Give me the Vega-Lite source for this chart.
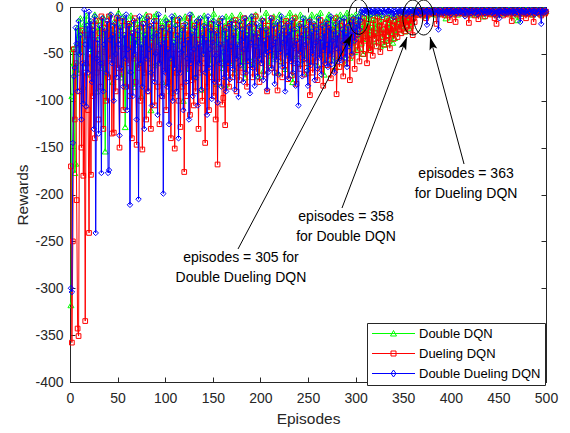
{
"$schema":"https://vega.github.io/schema/vega-lite/v6.json",
"width":476,"height":375,"autosize":"none",
"padding":{"left":70,"top":7,"right":24,"bottom":51},
"background":"white",
"config":{
"view":{"stroke":"#262626","strokeWidth":1},
"font":"Liberation Sans",
"axis":{"grid":false,"domainColor":"#262626","tickColor":"#262626","labelColor":"#262626","titleColor":"#262626","labelFont":"Liberation Sans","titleFont":"Liberation Sans","labelFontSize":14,"titleFontSize":15.5,"titleFontWeight":"normal","tickSize":-5,"domainWidth":1,"tickWidth":1,"labelFlush":false,"labelOverlap":false}
},
"datasets":{
"runs":[
{"e":1,"g":-318,"r":-170,"b":-300},{"e":2,"g":-95,"r":-358,"b":-304},{"e":3,"g":-45,"r":-250,"b":-145},{"e":4,"g":-60,"r":-45,"b":-74},{"e":5,"g":-177,"r":-120,"b":-65},{"e":6,"g":-167,"r":-60,"b":-22},{"e":7,"g":-40,"r":-206,"b":-39},{"e":8,"g":-22,"r":-343,"b":-90},{"e":9,"g":-70,"r":-351,"b":-15},{"e":10,"g":-30,"r":-90,"b":-50},
{"e":11,"g":-12,"r":-40,"b":-30},{"e":12,"g":-48,"r":-150,"b":-120},{"e":13,"g":-25,"r":-25,"b":-60},{"e":14,"g":-85,"r":-180,"b":-103},{"e":15,"g":-18,"r":-70,"b":-3},{"e":16,"g":-35,"r":-335,"b":-40},{"e":17,"g":-9,"r":-60,"b":-106},{"e":18,"g":-60,"r":-30,"b":-20},{"e":19,"g":-28,"r":-110,"b":-70},{"e":20,"g":-42,"r":-241,"b":-5},
{"e":21,"g":-15,"r":-50,"b":-45},{"e":22,"g":-72,"r":-179,"b":-15},{"e":23,"g":-30,"r":-20,"b":-80},{"e":24,"g":-20,"r":-95,"b":-25},{"e":25,"g":-55,"r":-35,"b":-130},{"e":26,"g":-8,"r":-140,"b":-10},{"e":27,"g":-38,"r":-15,"b":-241},{"e":28,"g":-90,"r":-70,"b":-55},{"e":29,"g":-25,"r":-45,"b":-35},{"e":30,"g":-14,"r":-120,"b":-135},
{"e":31,"g":-50,"r":-28,"b":-20},{"e":32,"g":-22,"r":-85,"b":-60},{"e":33,"g":-65,"r":-10,"b":-177},{"e":34,"g":-30,"r":-60,"b":-12},{"e":35,"g":-11,"r":-130,"b":-90},{"e":36,"g":-45,"r":-22,"b":-40},{"e":37,"g":-154,"r":-48,"b":-25},{"e":38,"g":-26,"r":-100,"b":-70},{"e":39,"g":-70,"r":-18,"b":-15},{"e":40,"g":-18,"r":-75,"b":-177},
{"e":41,"g":-35,"r":-10,"b":-174},{"e":42,"g":-8,"r":-55,"b":-35},{"e":43,"g":-52,"r":-30,"b":-8},{"e":44,"g":-24,"r":-135,"b":-60},{"e":45,"g":-80,"r":-20,"b":-30},{"e":46,"g":-16,"r":-134,"b":-100},{"e":47,"g":-40,"r":-40,"b":-18},{"e":48,"g":-28,"r":-90,"b":-50},{"e":49,"g":-60,"r":-12,"b":-75},{"e":50,"g":-12,"r":-65,"b":-10},
{"e":51,"g":-6,"r":-35,"b":-40},{"e":52,"g":-34,"r":-150,"b":-137},{"e":53,"g":-20,"r":-25,"b":-22},{"e":54,"g":-75,"r":-70,"b":-65},{"e":55,"g":-42,"r":-15,"b":-12},{"e":56,"g":-10,"r":-110,"b":-85},{"e":57,"g":-58,"r":-45,"b":-30},{"e":58,"g":-128,"r":-30,"b":-55},{"e":59,"g":-30,"r":-85,"b":-8},{"e":60,"g":-15,"r":-20,"b":-110},
{"e":61,"g":-45,"r":-60,"b":-45},{"e":62,"g":-22,"r":-18,"b":-20},{"e":63,"g":-68,"r":-95,"b":-211},{"e":64,"g":-9,"r":-40,"b":-70},{"e":65,"g":-36,"r":-140,"b":-28},{"e":66,"g":-52,"r":-28,"b":-95},{"e":67,"g":-18,"r":-55,"b":-15},{"e":68,"g":-85,"r":-12,"b":-50},{"e":69,"g":-27,"r":-80,"b":-35},{"e":70,"g":-40,"r":-147,"b":-120},
{"e":71,"g":-14,"r":-30,"b":-25},{"e":72,"g":-60,"r":-65,"b":-205},{"e":73,"g":-32,"r":-22,"b":-10},{"e":74,"g":-20,"r":-100,"b":-60},{"e":75,"g":-95,"r":-45,"b":-40},{"e":76,"g":-12,"r":-152,"b":-85},{"e":77,"g":-48,"r":-18,"b":-18},{"e":78,"g":-26,"r":-70,"b":-130},{"e":79,"g":-70,"r":-35,"b":-30},{"e":80,"g":-8,"r":-120,"b":-55},
{"e":81,"g":-38,"r":-25,"b":-12},{"e":82,"g":-55,"r":-90,"b":-90},{"e":83,"g":-18,"r":-10,"b":-45},{"e":84,"g":-30,"r":-60,"b":-20},{"e":85,"g":-110,"r":-130,"b":-70},{"e":86,"g":-22,"r":-38,"b":-105},{"e":87,"g":-44,"r":-75,"b":-32},{"e":88,"g":-10,"r":-20,"b":-15},{"e":89,"g":-62,"r":-105,"b":-80},{"e":90,"g":-28,"r":-48,"b":-50},
{"e":91,"g":-7,"r":-15,"b":-28},{"e":92,"g":-40,"r":-85,"b":-115},{"e":93,"g":-25,"r":-30,"b":-8},{"e":94,"g":-58,"r":-125,"b":-60},{"e":95,"g":-15,"r":-55,"b":-40},{"e":96,"g":-33,"r":-22,"b":-95},{"e":97,"g":-80,"r":-95,"b":-22},{"e":98,"g":-20,"r":-40,"b":-199},{"e":99,"g":-48,"r":-68,"b":-35},{"e":100,"g":-11,"r":-28,"b":-70},
{"e":101,"g":-30,"r":-110,"b":-15},{"e":102,"g":-65,"r":-35,"b":-85},{"e":103,"g":-16,"r":-80,"b":-45},{"e":104,"g":-42,"r":-18,"b":-125},{"e":105,"g":-24,"r":-60,"b":-25},{"e":106,"g":-90,"r":-140,"b":-55},{"e":107,"g":-13,"r":-25,"b":-10},{"e":108,"g":-36,"r":-92,"b":-100},{"e":109,"g":-55,"r":-45,"b":-38},{"e":110,"g":-9,"r":-151,"b":-65},
{"e":111,"g":-26,"r":-30,"b":-20},{"e":112,"g":-70,"r":-70,"b":-90},{"e":113,"g":-18,"r":-14,"b":-30},{"e":114,"g":-45,"r":-100,"b":-140},{"e":115,"g":-32,"r":-50,"b":-12},{"e":116,"g":-12,"r":-128,"b":-70},{"e":117,"g":-60,"r":-36,"b":-48},{"e":118,"g":-22,"r":-85,"b":-25},{"e":119,"g":-100,"r":-20,"b":-110},{"e":120,"g":-28,"r":-176,"b":-40},
{"e":121,"g":-10,"r":-40,"b":-18},{"e":122,"g":-48,"r":-95,"b":-80},{"e":123,"g":-35,"r":-25,"b":-55},{"e":124,"g":-20,"r":-65,"b":-35},{"e":125,"g":-66,"r":-12,"b":-120},{"e":126,"g":-15,"r":-115,"b":-8},{"e":127,"g":-40,"r":-48,"b":-60},{"e":128,"g":-8,"r":-78,"b":-28},{"e":129,"g":-52,"r":-30,"b":-95},{"e":130,"g":-30,"r":-105,"b":-45},
{"e":131,"g":-18,"r":-20,"b":-22},{"e":132,"g":-75,"r":-90,"b":-75},{"e":133,"g":-25,"r":-55,"b":-15},{"e":134,"g":-44,"r":-35,"b":-105},{"e":135,"g":-12,"r":-130,"b":-40},{"e":136,"g":-58,"r":-16,"b":-60},{"e":137,"g":-30,"r":-70,"b":-12},{"e":138,"g":-88,"r":-42,"b":-88},{"e":139,"g":-20,"r":-100,"b":-30},{"e":140,"g":-36,"r":-28,"b":-50},
{"e":141,"g":-9,"r":-60,"b":-20},{"e":142,"g":-50,"r":-145,"b":-70},{"e":143,"g":-28,"r":-22,"b":-35},{"e":144,"g":-16,"r":-85,"b":-115},{"e":145,"g":-70,"r":-38,"b":-10},{"e":146,"g":-34,"r":-110,"b":-65},{"e":147,"g":-22,"r":-50,"b":-45},{"e":148,"g":-60,"r":-18,"b":-25},{"e":149,"g":-14,"r":-75,"b":-98},{"e":150,"g":-40,"r":-35,"b":-38},
{"e":151,"g":-7,"r":-95,"b":-15},{"e":152,"g":-45,"r":-25,"b":-80},{"e":153,"g":-26,"r":-120,"b":-52},{"e":154,"g":-82,"r":-45,"b":-28},{"e":155,"g":-18,"r":-168,"b":-102},{"e":156,"g":-38,"r":-30,"b":-18},{"e":157,"g":-12,"r":-80,"b":-60},{"e":158,"g":-55,"r":-15,"b":-40},{"e":159,"g":-24,"r":-60,"b":-85},{"e":160,"g":-30,"r":-104,"b":-12},
{"e":161,"g":-65,"r":-97,"b":-48},{"e":162,"g":-20,"r":-40,"b":-75},{"e":163,"g":-83,"r":-126,"b":-25},{"e":164,"g":-10,"r":-22,"b":-90},{"e":165,"g":-42,"r":-70,"b":-34},{"e":166,"g":-28,"r":-50,"b":-60},{"e":167,"g":-58,"r":-85,"b":-20},{"e":168,"g":-16,"r":-18,"b":-77},{"e":169,"g":-35,"r":-60,"b":-42},{"e":170,"g":-9,"r":-35,"b":-15},
{"e":171,"g":-48,"r":-75,"b":-66},{"e":172,"g":-22,"r":-28,"b":-30},{"e":173,"g":-70,"r":-55,"b":-88},{"e":174,"g":-30,"r":-14,"b":-22},{"e":175,"g":-14,"r":-90,"b":-55},{"e":176,"g":-52,"r":-42,"b":-40},{"e":177,"g":-26,"r":-65,"b":-96},{"e":178,"g":-40,"r":-78,"b":-16},{"e":179,"g":-8,"r":-20,"b":-62},{"e":180,"g":-62,"r":-48,"b":-35},
{"e":181,"g":-18,"r":-36,"b":-24},{"e":182,"g":-36,"r":-70,"b":-80},{"e":183,"g":-24,"r":-12,"b":-45},{"e":184,"g":-75,"r":-58,"b":-12},{"e":185,"g":-12,"r":-30,"b":-70},{"e":186,"g":-44,"r":-85,"b":-30},{"e":187,"g":-30,"r":-45,"b":-58},{"e":188,"g":-20,"r":-22,"b":-20},{"e":189,"g":-56,"r":-62,"b":-92},{"e":190,"g":-10,"r":-40,"b":-38},
{"e":191,"g":-34,"r":-18,"b":-10},{"e":192,"g":-16,"r":-75,"b":-65},{"e":193,"g":-60,"r":-34,"b":-28},{"e":194,"g":-25,"r":-55,"b":-84},{"e":195,"g":-8,"r":-10,"b":-42},{"e":196,"g":-46,"r":-69,"b":-18},{"e":197,"g":-28,"r":-28,"b":-74},{"e":198,"g":-74,"r":-48,"b":-32},{"e":199,"g":-20,"r":-80,"b":-55},{"e":200,"g":-38,"r":-38,"b":-22},
{"e":201,"g":-12,"r":-25,"b":-60},{"e":202,"g":-50,"r":-60,"b":-14},{"e":203,"g":-68,"r":-15,"b":-78},{"e":204,"g":-22,"r":-72,"b":-36},{"e":205,"g":-32,"r":-40,"b":-50},{"e":206,"g":-6,"r":-30,"b":-24},{"e":207,"g":-44,"r":-90,"b":-88},{"e":208,"g":-26,"r":-20,"b":-70},{"e":209,"g":-62,"r":-52,"b":-30},{"e":210,"g":-15,"r":-35,"b":-46},
{"e":211,"g":-36,"r":-65,"b":-12},{"e":212,"g":-20,"r":-12,"b":-66},{"e":213,"g":-55,"r":-45,"b":-40},{"e":214,"g":-10,"r":-28,"b":-20},{"e":215,"g":-30,"r":-70,"b":-82},{"e":216,"g":-48,"r":-38,"b":-34},{"e":217,"g":-18,"r":-22,"b":-56},{"e":218,"g":-70,"r":-89,"b":-16},{"e":219,"g":-24,"r":-50,"b":-72},{"e":220,"g":-8,"r":-30,"b":-28},
{"e":221,"g":-42,"r":-58,"b":-48},{"e":222,"g":-14,"r":-18,"b":-10},{"e":223,"g":-58,"r":-75,"b":-64},{"e":224,"g":-28,"r":-40,"b":-38},{"e":225,"g":-20,"r":-25,"b":-22},{"e":226,"g":-66,"r":-62,"b":-90},{"e":227,"g":-12,"r":-15,"b":-30},{"e":228,"g":-38,"r":-48,"b":-52},{"e":229,"g":-26,"r":-77,"b":-18},{"e":230,"g":-50,"r":-32,"b":-76},
{"e":231,"g":-6,"r":-55,"b":-26},{"e":232,"g":-34,"r":-20,"b":-58},{"e":233,"g":-22,"r":-73,"b":-14},{"e":234,"g":-80,"r":-36,"b":-70},{"e":235,"g":-16,"r":-60,"b":-42},{"e":236,"g":-40,"r":-12,"b":-24},{"e":237,"g":-10,"r":-44,"b":-84},{"e":238,"g":-52,"r":-82,"b":-36},{"e":239,"g":-28,"r":-28,"b":-60},{"e":240,"g":-18,"r":-50,"b":-105},
{"e":241,"g":-46,"r":-38,"b":-20},{"e":242,"g":-8,"r":-66,"b":-48},{"e":243,"g":-32,"r":-18,"b":-30},{"e":244,"g":-60,"r":-54,"b":-74},{"e":245,"g":-20,"r":-30,"b":-12},{"e":246,"g":-36,"r":-72,"b":-56},{"e":247,"g":-12,"r":-42,"b":-40},{"e":248,"g":-54,"r":-24,"b":-22},{"e":249,"g":-24,"r":-60,"b":-68},{"e":250,"g":-70,"r":-35,"b":-84},
{"e":251,"g":-14,"r":-16,"b":-32},{"e":252,"g":-40,"r":-94,"b":-14},{"e":253,"g":-26,"r":-48,"b":-62},{"e":254,"g":-8,"r":-28,"b":-26},{"e":255,"g":-58,"r":-70,"b":-50},{"e":256,"g":-30,"r":-40,"b":-18},{"e":257,"g":-18,"r":-20,"b":-78},{"e":258,"g":-44,"r":-58,"b":-38},{"e":259,"g":-10,"r":-32,"b":-24},{"e":260,"g":-62,"r":-78,"b":-66},
{"e":261,"g":-22,"r":-26,"b":-12},{"e":262,"g":-36,"r":-52,"b":-54},{"e":263,"g":-6,"r":-14,"b":-34},{"e":264,"g":-50,"r":-66,"b":-72},{"e":265,"g":-28,"r":-38,"b":-20},{"e":266,"g":-16,"r":-84,"b":-46},{"e":267,"g":-72,"r":-22,"b":-28},{"e":268,"g":-20,"r":-46,"b":-60},{"e":269,"g":-40,"r":-30,"b":-16},{"e":270,"g":-12,"r":-62,"b":-40},
{"e":271,"g":-30,"r":-18,"b":-64},{"e":272,"g":-8,"r":-56,"b":-22},{"e":273,"g":-48,"r":-40,"b":-50},{"e":274,"g":-24,"r":-76,"b":-10},{"e":275,"g":-56,"r":-24,"b":-61},{"e":276,"g":-14,"r":-50,"b":-36},{"e":277,"g":-34,"r":-34,"b":-26},{"e":278,"g":-20,"r":-68,"b":-70},{"e":279,"g":-64,"r":-12,"b":-18},{"e":280,"g":-10,"r":-93,"b":-44},
{"e":281,"g":-38,"r":-44,"b":-30},{"e":282,"g":-18,"r":-28,"b":-58},{"e":283,"g":-52,"r":-64,"b":-14},{"e":284,"g":-8,"r":-20,"b":-48},{"e":285,"g":-28,"r":-54,"b":-57},{"e":286,"g":-44,"r":-36,"b":-24},{"e":287,"g":-12,"r":-74,"b":-38},{"e":288,"g":-60,"r":-16,"b":-12},{"e":289,"g":-22,"r":-48,"b":-54},{"e":290,"g":-32,"r":-30,"b":-28},
{"e":291,"g":-6,"r":-60,"b":-64},{"e":292,"g":-40,"r":-22,"b":-20},{"e":293,"g":-16,"r":-42,"b":-42},{"e":294,"g":-54,"r":-78,"b":-30},{"e":295,"g":-26,"r":-26,"b":-16},{"e":296,"g":-10,"r":-52,"b":-50},{"e":297,"g":-36,"r":-14,"b":-26},{"e":298,"g":-20,"r":-38,"b":-12},{"e":299,"g":-48,"r":-66,"b":-36},{"e":300,"g":-8,"r":-30,"b":-22},
{"e":301,"g":-30,"r":-20,"b":-18},{"e":302,"g":-14,"r":-46,"b":-30},{"e":303,"g":-44,"r":-34,"b":-10},{"e":304,"g":-22,"r":-58,"b":-24},{"e":305,"g":-6,"r":-16,"b":-14},{"e":306,"g":-38,"r":-40,"b":-5},{"e":307,"g":-18,"r":-26,"b":-3},{"e":308,"g":-50,"r":-50,"b":-6},{"e":309,"g":-10,"r":-12,"b":-4},{"e":310,"g":-28,"r":-36,"b":-7},
{"e":311,"g":-12,"r":-24,"b":-4},{"e":312,"g":-34,"r":-60,"b":-5},{"e":313,"g":-20,"r":-18,"b":-3},{"e":314,"g":-46,"r":-44,"b":-6},{"e":315,"g":-8,"r":-30,"b":-4},{"e":316,"g":-26,"r":-46,"b":-8},{"e":317,"g":-40,"r":-22,"b":-5},{"e":318,"g":-14,"r":-52,"b":-3},{"e":319,"g":-30,"r":-14,"b":-6},{"e":320,"g":-6,"r":-34,"b":-4},
{"e":321,"g":-22,"r":-28,"b":-5},{"e":322,"g":-36,"r":-42,"b":-7},{"e":323,"g":-10,"r":-10,"b":-3},{"e":324,"g":-28,"r":-38,"b":-4},{"e":325,"g":-16,"r":-20,"b":-6},{"e":326,"g":-42,"r":-48,"b":-5},{"e":327,"g":-8,"r":-16,"b":-3},{"e":328,"g":-24,"r":-32,"b":-9},{"e":329,"g":-34,"r":-24,"b":-4},{"e":330,"g":-40,"r":-40,"b":-5},
{"e":331,"g":-40,"r":-18,"b":-6},{"e":332,"g":-12,"r":-36,"b":-3},{"e":333,"g":-30,"r":-12,"b":-5},{"e":334,"g":-18,"r":-30,"b":-4},{"e":335,"g":-36,"r":-22,"b":-7},{"e":336,"g":-8,"r":-44,"b":-5},{"e":337,"g":-26,"r":-14,"b":-3},{"e":338,"g":-14,"r":-28,"b":-6},{"e":339,"g":-38,"r":-20,"b":-4},{"e":340,"g":-22,"r":-34,"b":-11},
{"e":341,"g":-33,"r":-16,"b":-5},{"e":342,"g":-10,"r":-26,"b":-4},{"e":343,"g":-28,"r":-10,"b":-6},{"e":344,"g":-16,"r":-32,"b":-3},{"e":345,"g":-6,"r":-18,"b":-5},{"e":346,"g":-24,"r":-24,"b":-7},{"e":347,"g":-12,"r":-8,"b":-4},{"e":348,"g":-20,"r":-28,"b":-5},{"e":349,"g":-8,"r":-14,"b":-3},{"e":350,"g":-18,"r":-22,"b":-6},
{"e":351,"g":-10,"r":-12,"b":-4},{"e":352,"g":-26,"r":-26,"b":-5},{"e":353,"g":-6,"r":-8,"b":-8},{"e":354,"g":-16,"r":-20,"b":-3},{"e":355,"g":-8,"r":-14,"b":-6},{"e":356,"g":-22,"r":-24,"b":-4},{"e":357,"g":-12,"r":-10,"b":-5},{"e":358,"g":-20,"r":-18,"b":-3},{"e":359,"g":-5,"r":-8,"b":-7},{"e":360,"g":-4,"r":-30,"b":-4},
{"e":361,"g":-7,"r":-12,"b":-5},{"e":362,"g":-3,"r":-16,"b":-6},{"e":363,"g":-6,"r":-9,"b":-3},{"e":364,"g":-5,"r":-6,"b":-4},{"e":365,"g":-8,"r":-5,"b":-6},{"e":366,"g":-4,"r":-8,"b":-5},{"e":367,"g":-6,"r":-4,"b":-3},{"e":368,"g":-3,"r":-7,"b":-8},{"e":369,"g":-5,"r":-5,"b":-4},{"e":370,"g":-7,"r":-9,"b":-5},
{"e":371,"g":-4,"r":-5,"b":-6},{"e":372,"g":-6,"r":-6,"b":-3},{"e":373,"g":-3,"r":-4,"b":-5},{"e":374,"g":-5,"r":-12,"b":-4},{"e":375,"g":-9,"r":-7,"b":-19},{"e":376,"g":-4,"r":-5,"b":-5},{"e":377,"g":-6,"r":-8,"b":-3},{"e":378,"g":-5,"r":-4,"b":-6},{"e":379,"g":-3,"r":-6,"b":-4},{"e":380,"g":-7,"r":-5,"b":-5},
{"e":381,"g":-5,"r":-7,"b":-7},{"e":382,"g":-4,"r":-4,"b":-4},{"e":383,"g":-6,"r":-6,"b":-5},{"e":384,"g":-8,"r":-5,"b":-3},{"e":385,"g":-3,"r":-18,"b":-6},{"e":386,"g":-5,"r":-6,"b":-4},{"e":387,"g":-4,"r":-4,"b":-24},{"e":388,"g":-7,"r":-7,"b":-5},{"e":389,"g":-5,"r":-5,"b":-3},{"e":390,"g":-6,"r":-8,"b":-6},
{"e":391,"g":-3,"r":-5,"b":-4},{"e":392,"g":-6,"r":-6,"b":-5},{"e":393,"g":-4,"r":-4,"b":-7},{"e":394,"g":-5,"r":-9,"b":-3},{"e":395,"g":-12,"r":-5,"b":-5},{"e":396,"g":-4,"r":-7,"b":-4},{"e":397,"g":-6,"r":-4,"b":-6},{"e":398,"g":-3,"r":-6,"b":-3},{"e":399,"g":-5,"r":-14,"b":-5},{"e":400,"g":-4,"r":-5,"b":-8},
{"e":401,"g":-7,"r":-6,"b":-4},{"e":402,"g":-5,"r":-4,"b":-6},{"e":403,"g":-4,"r":-8,"b":-3},{"e":404,"g":-6,"r":-5,"b":-5},{"e":405,"g":-3,"r":-16,"b":-4},{"e":406,"g":-5,"r":-6,"b":-7},{"e":407,"g":-8,"r":-4,"b":-5},{"e":408,"g":-4,"r":-7,"b":-3},{"e":409,"g":-6,"r":-5,"b":-6},{"e":410,"g":-5,"r":-6,"b":-4},
{"e":411,"g":-3,"r":-4,"b":-5},{"e":412,"g":-4,"r":-7,"b":-3},{"e":413,"g":-6,"r":-5,"b":-6},{"e":414,"g":-5,"r":-6,"b":-4},{"e":415,"g":-7,"r":-4,"b":-10},{"e":416,"g":-4,"r":-8,"b":-5},{"e":417,"g":-5,"r":-5,"b":-3},{"e":418,"g":-3,"r":-6,"b":-6},{"e":419,"g":-6,"r":-17,"b":-4},{"e":420,"g":-4,"r":-5,"b":-5},
{"e":421,"g":-5,"r":-6,"b":-7},{"e":422,"g":-8,"r":-4,"b":-4},{"e":423,"g":-4,"r":-7,"b":-5},{"e":424,"g":-6,"r":-5,"b":-3},{"e":425,"g":-3,"r":-9,"b":-6},{"e":426,"g":-5,"r":-4,"b":-4},{"e":427,"g":-4,"r":-6,"b":-5},{"e":428,"g":-7,"r":-5,"b":-8},{"e":429,"g":-5,"r":-13,"b":-3},{"e":430,"g":-3,"r":-6,"b":-5},
{"e":431,"g":-6,"r":-4,"b":-4},{"e":432,"g":-4,"r":-7,"b":-6},{"e":433,"g":-5,"r":-5,"b":-3},{"e":434,"g":-10,"r":-6,"b":-5},{"e":435,"g":-4,"r":-4,"b":-4},{"e":436,"g":-6,"r":-10,"b":-7},{"e":437,"g":-3,"r":-5,"b":-5},{"e":438,"g":-5,"r":-7,"b":-3},{"e":439,"g":-4,"r":-4,"b":-6},{"e":440,"g":-6,"r":-6,"b":-4},
{"e":441,"g":-5,"r":-5,"b":-5},{"e":442,"g":-3,"r":-8,"b":-3},{"e":443,"g":-7,"r":-4,"b":-6},{"e":444,"g":-4,"r":-6,"b":-4},{"e":445,"g":-6,"r":-5,"b":-5},{"e":446,"g":-5,"r":-12,"b":-8},{"e":447,"g":-4,"r":-7,"b":-4},{"e":448,"g":-8,"r":-18,"b":-3},{"e":449,"g":-3,"r":-5,"b":-6},{"e":450,"g":-5,"r":-6,"b":-5},
{"e":451,"g":-4,"r":-4,"b":-12},{"e":452,"g":-6,"r":-7,"b":-4},{"e":453,"g":-5,"r":-5,"b":-5},{"e":454,"g":-3,"r":-6,"b":-3},{"e":455,"g":-7,"r":-9,"b":-6},{"e":456,"g":-4,"r":-5,"b":-4},{"e":457,"g":-5,"r":-4,"b":-7},{"e":458,"g":-6,"r":-7,"b":-5},{"e":459,"g":-4,"r":-6,"b":-3},{"e":460,"g":-5,"r":-5,"b":-6},
{"e":461,"g":-3,"r":-8,"b":-4},{"e":462,"g":-6,"r":-4,"b":-5},{"e":463,"g":-4,"r":-6,"b":-3},{"e":464,"g":-5,"r":-15,"b":-6},{"e":465,"g":-9,"r":-5,"b":-4},{"e":466,"g":-4,"r":-7,"b":-5},{"e":467,"g":-6,"r":-4,"b":-7},{"e":468,"g":-3,"r":-6,"b":-3},{"e":469,"g":-5,"r":-5,"b":-5},{"e":470,"g":-14,"r":-8,"b":-4},
{"e":471,"g":-4,"r":-4,"b":-6},{"e":472,"g":-5,"r":-6,"b":-3},{"e":473,"g":-3,"r":-5,"b":-16},{"e":474,"g":-6,"r":-10,"b":-4},{"e":475,"g":-5,"r":-7,"b":-5},{"e":476,"g":-4,"r":-5,"b":-3},{"e":477,"g":-7,"r":-4,"b":-6},{"e":478,"g":-5,"r":-6,"b":-4},{"e":479,"g":-3,"r":-12,"b":-5},{"e":480,"g":-6,"r":-5,"b":-7},
{"e":481,"g":-5,"r":-7,"b":-3},{"e":482,"g":-4,"r":-4,"b":-5},{"e":483,"g":-6,"r":-6,"b":-4},{"e":484,"g":-3,"r":-5,"b":-6},{"e":485,"g":-5,"r":-8,"b":-3},{"e":486,"g":-8,"r":-4,"b":-5},{"e":487,"g":-4,"r":-16,"b":-4},{"e":488,"g":-5,"r":-5,"b":-8},{"e":489,"g":-6,"r":-6,"b":-5},{"e":490,"g":-4,"r":-4,"b":-3},
{"e":491,"g":-3,"r":-6,"b":-6},{"e":492,"g":-5,"r":-5,"b":-4},{"e":493,"g":-4,"r":-7,"b":-5},{"e":494,"g":-7,"r":-4,"b":-3},{"e":495,"g":-5,"r":-9,"b":-18},{"e":496,"g":-6,"r":-5,"b":-5},{"e":497,"g":-4,"r":-6,"b":-4},{"e":498,"g":-3,"r":-4,"b":-6},{"e":499,"g":-5,"r":-7,"b":-3},{"e":500,"g":-4,"r":-5,"b":-5}
],
"notes":[
{"n":1,"t":"episodes = 305 for\nDouble Dueling DQN","tx":179.6,"ty":-267.7,"x1":176.5,"y1":-258.1,"x2":296.2,"y2":-28.8,"ex":303.4,"ey":-10.5},
{"n":2,"t":"episodes = 358\nfor Double DQN","tx":289.9,"ty":-223.6,"x1":285.7,"y1":-214.4,"x2":354,"y2":-32,"ex":360.1,"ey":-11.2},
{"n":3,"t":"episodes = 363\nfor Dueling DQN","tx":416,"ty":-177.6,"x1":413.9,"y1":-167.5,"x2":378.2,"y2":-32,"ex":371.5,"ey":-11.2}
]
},
"data":{"name":"runs"},
"resolve":{"axis":{"x":"independent","y":"independent"}},
"layer":[
{"mark":{"type":"line","color":"#00ff00","strokeWidth":1,"point":{"filled":false,"shape":"triangle-up","size":36,"color":"#00ff00","strokeWidth":1,"opacity":1}},
"encoding":{
"x":{"field":"e","type":"quantitative","scale":{"domain":[0,500],"nice":false,"zero":false},"axis":{"orient":"bottom","title":"Episodes","values":[0,50,100,150,200,250,300,350,400,450,500],"labelPadding":14,"titlePadding":6,"labelExpr":"''+datum.value"}},
"y":{"field":"g","type":"quantitative","scale":{"domain":[-400,0],"nice":false,"zero":false},"axis":{"orient":"left","title":"Rewards","values":[-400,-350,-300,-250,-200,-150,-100,-50,0],"labelPadding":12,"titlePadding":4,"labelExpr":"''+datum.value"}}}},
{"mark":{"type":"line","color":"#ff0000","strokeWidth":1,"point":{"filled":false,"shape":"square","size":22,"color":"#ff0000","strokeWidth":1,"opacity":1}},
"encoding":{
"x":{"field":"e","type":"quantitative","scale":{"domain":[0,500],"nice":false,"zero":false},"axis":null},
"y":{"field":"r","type":"quantitative","scale":{"domain":[-400,0],"nice":false,"zero":false},"axis":null}}},
{"mark":{"type":"line","color":"#0000ff","strokeWidth":1,"point":{"filled":false,"shape":"diamond","size":30,"color":"#0000ff","strokeWidth":1,"opacity":1}},
"encoding":{
"x":{"field":"e","type":"quantitative","scale":{"domain":[0,500],"nice":false,"zero":false},"axis":null},
"y":{"field":"b","type":"quantitative","scale":{"domain":[-400,0],"nice":false,"zero":false},"axis":null}}},
{"transform":[{"fold":["g","r","b"],"as":["k","v"]},{"filter":"false"}],
"mark":{"type":"point","filled":false,"strokeWidth":1,"opacity":1},
"encoding":{
"x":{"field":"e","type":"quantitative","scale":{"domain":[0,500],"nice":false,"zero":false},"axis":{"orient":"top","labels":false,"title":null,"values":[0,50,100,150,200,250,300,350,400,450,500]}},
"y":{"field":"v","type":"quantitative","scale":{"domain":[-400,0],"nice":false,"zero":false},"axis":{"orient":"right","labels":false,"title":null,"values":[-400,-350,-300,-250,-200,-150,-100,-50,0]}},
"color":{"field":"k","type":"nominal","scale":{"domain":["g","r","b"],"range":["#00ff00","#ff0000","#0000ff"]},
"legend":{"title":null,"orient":"none","legendX":297,"legendY":316,"padding":4,"strokeColor":"#262626","fillColor":"white","cornerRadius":0,"labelFont":"Liberation Sans","labelFontSize":13,"labelColor":"black","symbolSize":100,"symbolStrokeWidth":1,"symbolOffset":16,"labelOffset":19,"rowPadding":6,"labelExpr":"datum.value=='g'?'Double DQN':datum.value=='r'?'Dueling DQN':'Double Dueling DQN'"}},
"shape":{"field":"k","type":"nominal","scale":{"domain":["g","r","b"],"range":["M-4.3,0H4.3M0,-0.6L0.6,0.5L-0.6,0.5Z","M-4.3,0H4.3M-0.5,-0.5H0.5V0.5H-0.5Z","M-4.3,0H4.3M0,-0.7L0.5,0L0,0.7L-0.5,0Z"]},
"legend":{"title":null,"orient":"none","legendX":297,"legendY":316,"padding":4,"strokeColor":"#262626","fillColor":"white","cornerRadius":0,"labelFont":"Liberation Sans","labelFontSize":13,"labelColor":"black","symbolSize":100,"symbolStrokeWidth":1,"symbolOffset":16,"labelOffset":19,"rowPadding":6,"labelExpr":"datum.value=='g'?'Double DQN':datum.value=='r'?'Dueling DQN':'Double Dueling DQN'"}}}},
{"data":{"name":"notes"},
"mark":{"type":"rule","color":"black","strokeWidth":1},
"encoding":{
"x":{"field":"x1","type":"quantitative","scale":{"domain":[0,500],"nice":false,"zero":false},"axis":null},
"y":{"field":"y1","type":"quantitative","scale":{"domain":[-400,0],"nice":false,"zero":false},"axis":null},
"x2":{"field":"x2"},"y2":{"field":"y2"}}},
{"data":{"name":"notes"},"transform":[{"filter":"datum.n==1"}],
"mark":{"type":"point","shape":"M0,0L-0.4,1.3L0,1L0.4,1.3Z","size":400,"angle":27.9,"filled":true,"color":"black","opacity":1,"strokeWidth":0},
"encoding":{
"x":{"field":"x2","type":"quantitative","scale":{"domain":[0,500],"nice":false,"zero":false},"axis":null},
"y":{"field":"y2","type":"quantitative","scale":{"domain":[-400,0],"nice":false,"zero":false},"axis":null}}},
{"data":{"name":"notes"},"transform":[{"filter":"datum.n==2"}],
"mark":{"type":"point","shape":"M0,0L-0.4,1.3L0,1L0.4,1.3Z","size":400,"angle":20.8,"filled":true,"color":"black","opacity":1,"strokeWidth":0},
"encoding":{
"x":{"field":"x2","type":"quantitative","scale":{"domain":[0,500],"nice":false,"zero":false},"axis":null},
"y":{"field":"y2","type":"quantitative","scale":{"domain":[-400,0],"nice":false,"zero":false},"axis":null}}},
{"data":{"name":"notes"},"transform":[{"filter":"datum.n==3"}],
"mark":{"type":"point","shape":"M0,0L-0.4,1.3L0,1L0.4,1.3Z","size":400,"angle":345,"filled":true,"color":"black","opacity":1,"strokeWidth":0},
"encoding":{
"x":{"field":"x2","type":"quantitative","scale":{"domain":[0,500],"nice":false,"zero":false},"axis":null},
"y":{"field":"y2","type":"quantitative","scale":{"domain":[-400,0],"nice":false,"zero":false},"axis":null}}},
{"data":{"name":"notes"},
"mark":{"type":"point","shape":"M-0.57,0A0.57,1 0 1,0 0.57,0A0.57,1 0 1,0 -0.57,0Z","size":1225,"filled":false,"color":"black","opacity":1,"strokeWidth":1},
"encoding":{
"x":{"field":"ex","type":"quantitative","scale":{"domain":[0,500],"nice":false,"zero":false},"axis":null},
"y":{"field":"ey","type":"quantitative","scale":{"domain":[-400,0],"nice":false,"zero":false},"axis":null}}},
{"data":{"name":"notes"},
"mark":{"type":"text","align":"center","baseline":"middle","fontSize":14,"lineHeight":20,"lineBreak":"\n","font":"Liberation Sans","color":"black"},
"encoding":{
"x":{"field":"tx","type":"quantitative","scale":{"domain":[0,500],"nice":false,"zero":false},"axis":null},
"y":{"field":"ty","type":"quantitative","scale":{"domain":[-400,0],"nice":false,"zero":false},"axis":null},
"text":{"field":"t"}}}
]
}
